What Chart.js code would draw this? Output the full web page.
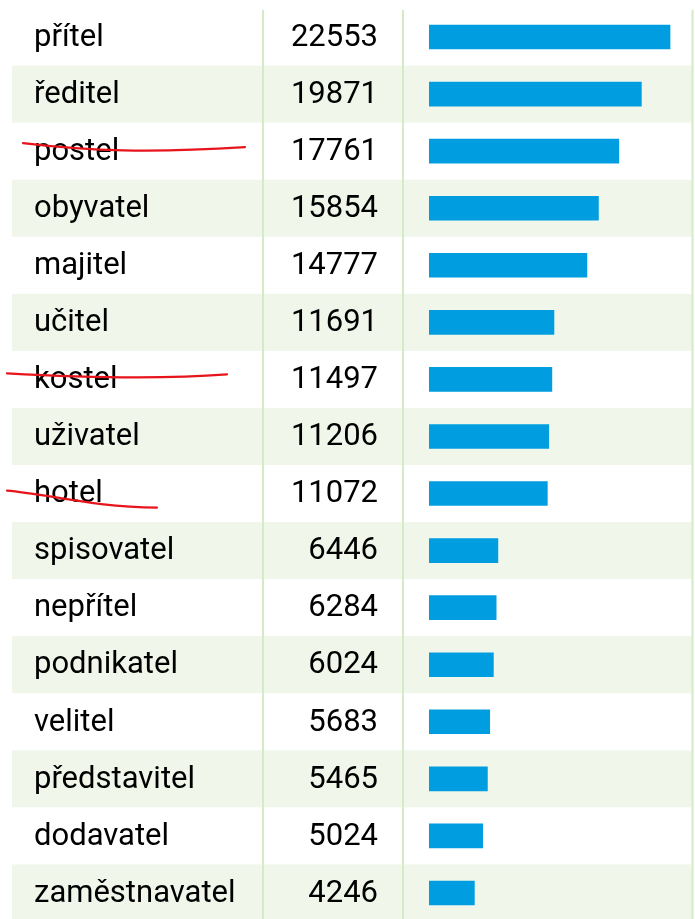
<!DOCTYPE html>
<html>
<head>
<meta charset="utf-8">
<script src="https://cdn.jsdelivr.net/npm/chart.js@4/dist/chart.umd.min.js"></script>
<style>
  html, body { margin:0; padding:0; background:#fff; overflow:hidden; }
  canvas { display:block; }
</style>
</head>
<body>
<canvas id="freq" width="695" height="922"></canvas>
<script>
'use strict';
// ── word frequency table (nouns ending in -tel) ──────────

const words = [
  'přítel', 'ředitel', 'postel', 'obyvatel', 'majitel', 'učitel', 'kostel', 'uživatel',
  'hotel', 'spisovatel', 'nepřítel', 'podnikatel', 'velitel', 'představitel', 'dodavatel', 'zaměstnavatel',
];
const counts = [
  22553, 19871, 17761, 15854, 14777, 11691, 11497, 11206,
  11072, 6446, 6284, 6024, 5683, 5465, 5024, 4246,
];
// words struck through by hand in the original
const crossed = ['postel', 'kostel', 'hotel'];

const FONT = '31px Roboto, "Noto Sans", sans-serif';
const STRIPE = '#f0f6ea';
const RULE = '#d3ecc6';

// red pen strokes, offsets relative to the row centre
const strokes = {
  postel: [[23, -8], [90, 0], [150, 2], [245, -4]],
  kostel: [[7, -6], [80, -2], [160, 0], [227, -5]],
  hotel:  [[7, -3], [45, 0], [95, 14], [157, 14]],
};

const tablePlugin = {
  id: 'table',
  beforeDatasetsDraw(chart) {
    const { ctx, scales: { y } } = chart;
    const band = y.getPixelForValue(1) - y.getPixelForValue(0);
    ctx.save();
    // alternating row stripes
    words.forEach((w, i) => {
      if (i % 2 === 1) {
        ctx.fillStyle = STRIPE;
        ctx.fillRect(12, y.getPixelForValue(i) - band / 2, 680, band);
      }
    });
    // column rules
    ctx.strokeStyle = RULE;
    ctx.lineWidth = 2;
    [263, 403, 692.5].forEach(x => {
      ctx.beginPath();
      ctx.moveTo(x, 10);
      ctx.lineTo(x, chart.height);
      ctx.stroke();
    });
    // words + counts
    ctx.font = FONT;
    ctx.fillStyle = '#000';
    ctx.textBaseline = 'middle';
    words.forEach((w, i) => {
      const cy = y.getPixelForValue(i) + 1;
      ctx.textAlign = 'left';
      ctx.fillText(w, 34, cy);
      ctx.textAlign = 'right';
      ctx.fillText(String(counts[i]), 378, cy);
    });
    ctx.restore();
  },
  afterDatasetsDraw(chart) {
    const { ctx, scales: { y } } = chart;
    ctx.save();
    ctx.strokeStyle = '#e8141b';
    ctx.lineWidth = 2.2;
    ctx.lineCap = 'round';
    ctx.lineJoin = 'round';
    crossed.forEach(w => {
      const pts = strokes[w];
      const cy = y.getPixelForValue(words.indexOf(w));
      ctx.beginPath();
      ctx.moveTo(pts[0][0], cy + pts[0][1]);
      ctx.bezierCurveTo(pts[1][0], cy + pts[1][1], pts[2][0], cy + pts[2][1], pts[3][0], cy + pts[3][1]);
      ctx.stroke();
    });
    ctx.restore();
  },
};

new Chart(document.getElementById('freq'), {
  type: 'bar',
  data: {
    labels: words,
    datasets: [{
      data: counts,
      backgroundColor: '#009ee0',
      borderWidth: 0,
      barThickness: 24,
    }],
  },
  options: {
    indexAxis: 'y',
    responsive: false,
    animation: false,
    layout: { padding: { left: 429, right: 9.5, top: 8.5, bottom: 0.5 } },
    plugins: { legend: { display: false }, tooltip: { enabled: false } },
    scales: {
      x: { display: false, min: 0, max: 24000 },
      y: { display: false },
    },
  },
  plugins: [tablePlugin],
});
</script>
</body>
</html>
